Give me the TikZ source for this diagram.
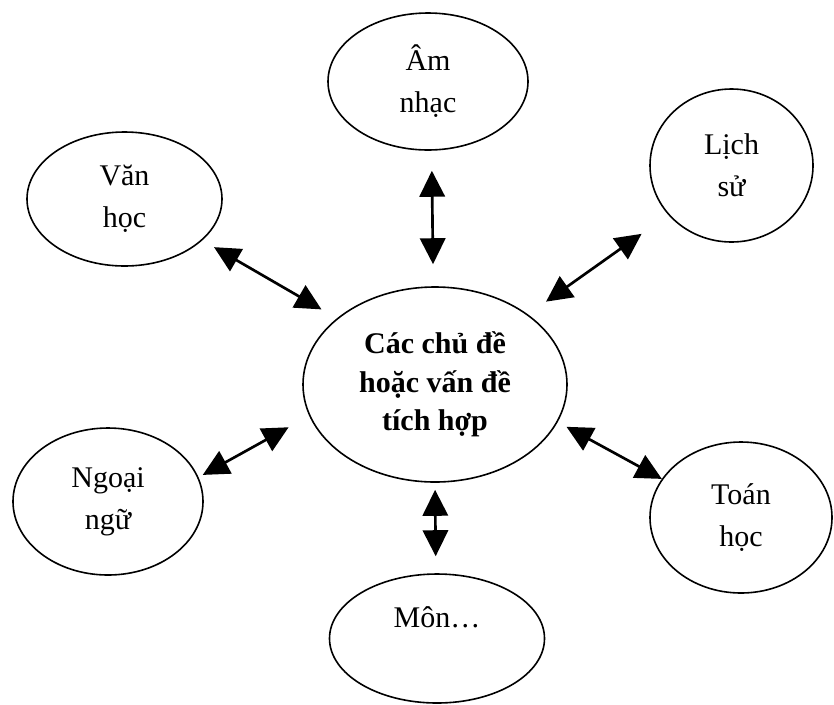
\documentclass[tikz,border=0pt]{standalone}
\usepackage{fontspec}
\setmainfont{Liberation Serif}
\usepackage{tikz}
\usetikzlibrary{shapes.geometric}
\usetikzlibrary{arrows.meta}
\newcommand{\subjsize}{\fontsize{22.5pt}{31.5pt}\selectfont}
\newcommand{\themesize}{\fontsize{22.5pt}{28.7pt}\selectfont\bfseries}
\tikzstyle{subject}=[ellipse,draw,line width=1.2pt,inner sep=0pt,align=center,font=\subjsize]
\tikzstyle{link}=[{Triangle[length=19.5pt,width=19pt]}-{Triangle[length=19.5pt,width=19pt]},line width=2pt]

\begin{document}
\begin{tikzpicture}[x=0.75pt,y=-0.75pt]
        \useasboundingbox (0,0) rectangle (834,704);

        % centre
        \node[subject,font=\themesize,minimum width=198pt,minimum height=146.25pt] (chu) at (435,384.5)
            {Các chủ đề\\hoặc vấn đề\\tích hợp};

        % subjects round it
        \node[subject,minimum width=150pt,minimum height=102.75pt] (am) at (428,81.5) {Âm\\nhạc};
        \node[subject,minimum width=146.25pt,minimum height=100.5pt] (van) at (124.5,199) {Văn\\học};
        \node[subject,minimum width=122.25pt,minimum height=114.75pt] (lich) at (731.5,165.5) {Lịch\\sử};
        \node[subject,minimum width=142.5pt,minimum height=110.25pt] (ngoai) at (108,501.5) {Ngoại\\ngữ};
        \node[subject,minimum width=136.5pt,minimum height=113.25pt] (toan) at (741,517.5) {Toán\\học};
        \node[subject,minimum width=161.25pt,minimum height=96.75pt] (mon) at (437,638.5) {Môn…\\~};

        \draw[link,shorten <=15pt,shorten >=16.5pt] (am.-87) -- (chu.91.6);
        \draw[link,shorten <=10.1pt,shorten >=13.3pt] (van.-28.3) -- (chu.146.1);
        \draw[link,shorten <=24.5pt,shorten >=16.5pt] (lich.218.9) -- (chu.37.3);
        \draw[link,shorten <=3.6pt,shorten >=17.6pt] (ngoai.15) -- (chu.194.7);
        \draw[link,shorten <=0pt,shorten >=7.5pt] (toan.154) -- (chu.-17.8);
        \draw[link,shorten <=5.25pt,shorten >=12.75pt] (chu.-90.5) -- (mon.91.5);
\end{tikzpicture}
\end{document}
